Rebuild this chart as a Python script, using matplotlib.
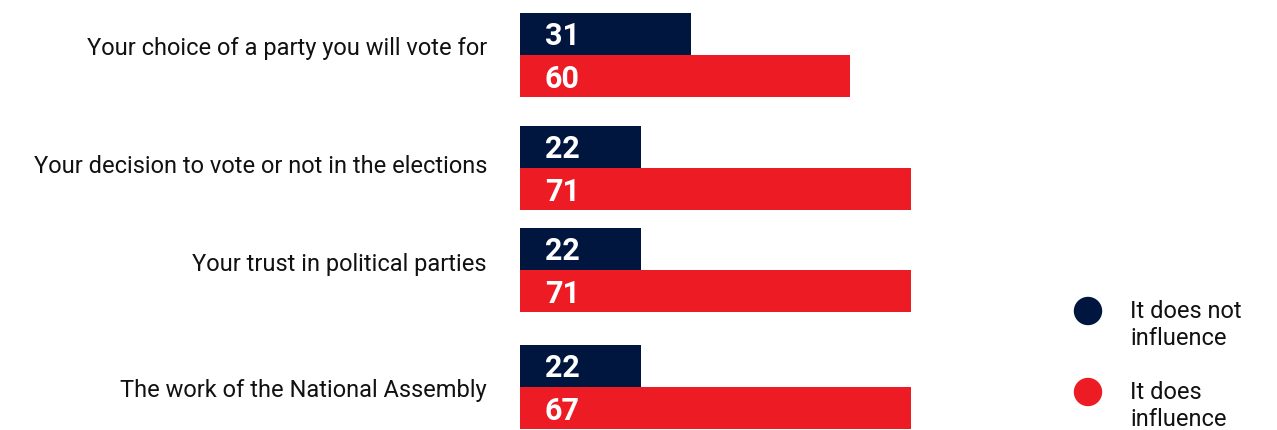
import matplotlib.pyplot as plt
from matplotlib import font_manager
from matplotlib.patches import Ellipse

categories = [
    "Your choice of a party you will vote for",
    "Your decision to vote or not in the elections",
    "Your trust in political parties",
    "The work of the National Assembly",
]
does_not_influence = [31, 22, 22, 22]
does_influence = [60, 71, 71, 71]          # bar lengths as drawn in the source
does_influence_labels = ["60", "71", "71", "67"]  # printed values
series_names = ["It does not\ninfluence", "It does\ninfluence"]

navy = "#01163f"
red = "#ed1c24"

installed = {f.name for f in font_manager.fontManager.ttflist}
label_font = "Roboto" if "Roboto" in installed else "DejaVu Sans"

# pixel-based layout (figure is 1277 x 430 px)
px_per_unit = 5.5
x0 = 520
group_mid = [55, 168, 270, 387]   # boundary between the two bars of each group
label_base = [55, 173, 271, 397]  # baseline of category labels
bar_h = 42

fig = plt.figure(figsize=(12.77, 4.30), dpi=100)
ax = fig.add_axes([0, 0, 1, 1])
ax.set_xlim(-x0 / px_per_unit, (1277 - x0) / px_per_unit)
ax.set_ylim(430, 0)
ax.axis("off")

num_x = 25 / px_per_unit
for i, cat in enumerate(categories):
    m = group_mid[i]
    ax.barh(m - bar_h / 2, does_not_influence[i], height=bar_h, left=0, color=navy)
    ax.barh(m + bar_h / 2, does_influence[i], height=bar_h, left=0, color=red)
    ax.text(num_x, m - bar_h / 2 + 11, str(does_not_influence[i]), color="white",
            fontsize=22, fontweight="bold", family=label_font, ha="left", va="baseline")
    ax.text(num_x, m + bar_h / 2 + 12, does_influence_labels[i], color="white",
            fontsize=22, fontweight="bold", family=label_font, ha="left", va="baseline")
    ax.text(-33 / px_per_unit, label_base[i], cat, fontsize=17, family=label_font,
            color="#111111", ha="right", va="baseline")

# legend
leg_y = [311, 392]
for y, name, c in zip(leg_y, series_names, [navy, red]):
    ax.add_patch(Ellipse(((1088 - x0) / px_per_unit, y), 27 / px_per_unit, 27,
                         color=c))
    for k, line in enumerate(name.split("\n")):
        ax.text((1130 - x0) / px_per_unit, y + 7 + 27 * k, line, fontsize=17,
                family=label_font, color="#111111", ha="left", va="baseline")

fig.savefig("out.png", dpi=100)
